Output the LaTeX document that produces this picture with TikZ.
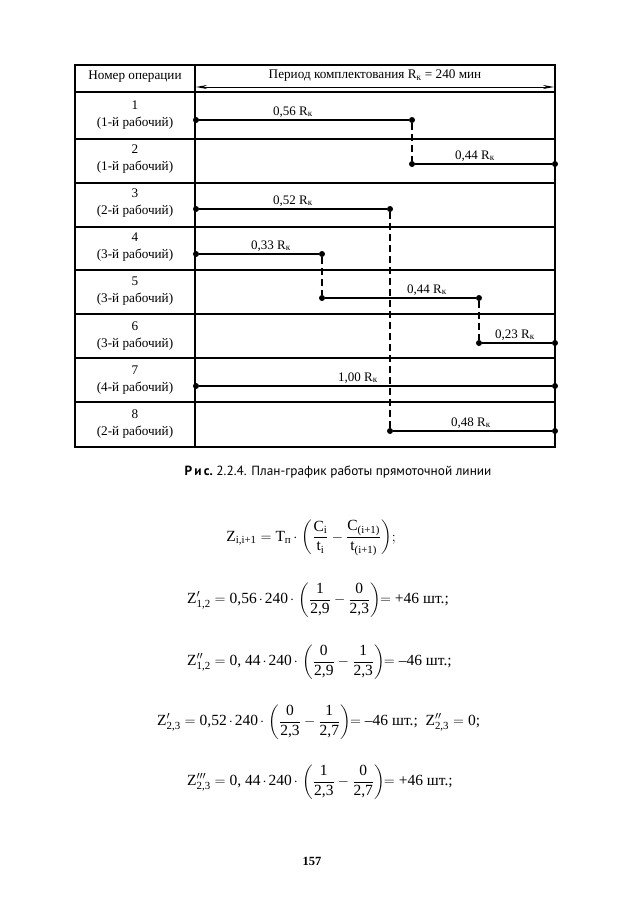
\documentclass[tikz,border=0pt]{standalone}
\usepackage{amsmath}
\usepackage{fontspec}
\setmainfont{Liberation Serif}
\newfontfamily\capfont{PT Sans}
\usetikzlibrary{arrows.meta}
\newcommand\tx[1]{\text{#1}}
\newcommand\cd{\mskip2.5mu{\cdot}\mskip2.5mu}
\begin{document}
\begin{tikzpicture}[x=1pt,y=-1pt,
  grid/.style={line width=1.1pt},
  seg/.style={line width=1.3pt},
  dsh/.style={line width=1.2pt, dash pattern=on 7pt off 4pt},
  pt/.style={circle, fill, inner sep=0pt, minimum size=6pt},
  lbl/.style={font=\fontsize{13}{15}\selectfont, inner sep=0pt, anchor=base},
  hd/.style={font=\fontsize{13.2}{17.5}\selectfont, align=center, inner sep=0pt},
  eq/.style={font=\fontsize{15.5}{18}\selectfont, inner sep=0pt, anchor=west}]
\useasboundingbox (0,0) rectangle (624,897);
\fill[white] (0,0) rectangle (624,897);
% table frame
\draw[grid] (75,65) rectangle (555,447);
\draw[grid] (195,65) -- (195,447);
\foreach \yy in {92,139,183,227,270,314,358,402}
  \draw[grid] (75,\yy) -- (555,\yy);
% header
\node[hd] (h1) at (135,77) {Номер операции};
\node[hd] (h2) at (375,76) {Период комплектования R\textsubscript{к} = 240 мин};
\coordinate (al) at (196,87);
\coordinate (ar) at (554,87);
\draw[line width=0.9pt, {Stealth[length=11pt,width=4pt]}-{Stealth[length=11pt,width=4pt]}] (al) -- (ar);
% row labels
\node[hd] (r1) at (135,115) {1\\(1-й рабочий)};
\node[hd] (r2) at (135,159) {2\\(1-й рабочий)};
\node[hd] (r3) at (135,203) {3\\(2-й рабочий)};
\node[hd] (r4) at (135,247) {4\\(3-й рабочий)};
\node[hd] (r5) at (135,291) {5\\(3-й рабочий)};
\node[hd] (r6) at (135,336) {6\\(3-й рабочий)};
\node[hd] (r7) at (135,380) {7\\(4-й рабочий)};
\node[hd] (r8) at (135,424) {8\\(2-й рабочий)};
% dots
\node[pt] (a1) at (196,120) {};
\node[pt] (b1) at (412,120) {};
\node[pt] (a2) at (412,164) {};
\node[pt] (b2) at (555,164) {};
\node[pt] (a3) at (196,209) {};
\node[pt] (b3) at (390,209) {};
\node[pt] (a4) at (196,254) {};
\node[pt] (b4) at (322,254) {};
\node[pt] (a5) at (322,298) {};
\node[pt] (b5) at (479,298) {};
\node[pt] (a6) at (479,343) {};
\node[pt] (b6) at (555,343) {};
\node[pt] (a7) at (196,386) {};
\node[pt] (b7) at (555,386) {};
\node[pt] (a8) at (390,431) {};
\node[pt] (b8) at (555,431) {};
% segments
\draw[seg] (a1) -- (b1);
\draw[seg] (a2) -- (b2);
\draw[seg] (a3) -- (b3);
\draw[seg] (a4) -- (b4);
\draw[seg] (a5) -- (b5);
\draw[seg] (a6) -- (b6);
\draw[seg] (a7) -- (b7);
\draw[seg] (a8) -- (b8);
% dashed links
\draw[dsh] (b1) -- (a2);
\draw[dsh] (b3) -- (a8);
\draw[dsh] (b4) -- (a5);
\draw[dsh] (b5) -- (a6);
% segment labels
\node[lbl] (l1) at (293,115) {0,56 R\textsubscript{к}};
\node[lbl] (l2) at (475,159) {0,44 R\textsubscript{к}};
\node[lbl] (l3) at (293,204) {0,52 R\textsubscript{к}};
\node[lbl] (l4) at (271,249) {0,33 R\textsubscript{к}};
\node[lbl] (l5) at (427,293) {0,44 R\textsubscript{к}};
\node[lbl] (l6) at (515,338) {0,23 R\textsubscript{к}};
\node[lbl] (l7) at (358,381) {1,00 R\textsubscript{к}};
\node[lbl] (l8) at (471,426) {0,48 R\textsubscript{к}};
% caption
\node[font=\capfont\fontsize{13.3}{15}\selectfont, inner sep=0pt] (cap) at (338,472)
  {{\bfseries Р\,и\,с.}~2.2.4. План-график работы прямоточной линии};
% formulas
\node[eq, anchor=center] (f1) at (311,538)
  {$\tx{Z}_{\tx{i,i+1}} = \tx{T}_{\tx{п}}\cd\left(\dfrac{\tx{C}_{\tx{i}}}{\tx{t}_{\tx{i}}} - \dfrac{\tx{C}_{\tx{(i+1)}}}{\tx{t}_{\tx{(i+1)}}}\right)\!;$};
\node[eq] (f2) at (187,600)
  {$\tx{Z}'_{\tx{1,2}} = \tx{0,56}\cd\tx{240}\cd\left(\dfrac{\tx{1}}{\tx{2,9}} - \dfrac{\tx{0}}{\tx{2,3}}\right)\!\!=\tx{+46 шт.;}$};
\node[eq] (f3) at (187,662)
  {$\tx{Z}''_{\tx{1,2}} = \tx{0, 44}\cd\tx{240}\cd\left(\dfrac{\tx{0}}{\tx{2,9}} - \dfrac{\tx{1}}{\tx{2,3}}\right)\!\!=\tx{–46 шт.;}$};
\node[eq] (f4) at (157,722)
  {$\tx{Z}'_{\tx{2,3}} = \tx{0,52}\cd\tx{240}\cd\left(\dfrac{\tx{0}}{\tx{2,3}} - \dfrac{\tx{1}}{\tx{2,7}}\right)\!\!=\tx{–46 шт.;~~}\tx{Z}''_{\tx{2,3}} = \tx{0;}$};
\node[eq] (f5) at (187,782)
  {$\tx{Z}'''_{\tx{2,3}} = \tx{0, 44}\cd\tx{240}\cd\left(\dfrac{\tx{1}}{\tx{2,3}} - \dfrac{\tx{0}}{\tx{2,7}}\right)\!\!=\tx{+46 шт.;}$};
% page number
\node[font=\bfseries\fontsize{12.5}{14}\selectfont, inner sep=0pt] (pg) at (312,861) {157};
\end{tikzpicture}
\end{document}
